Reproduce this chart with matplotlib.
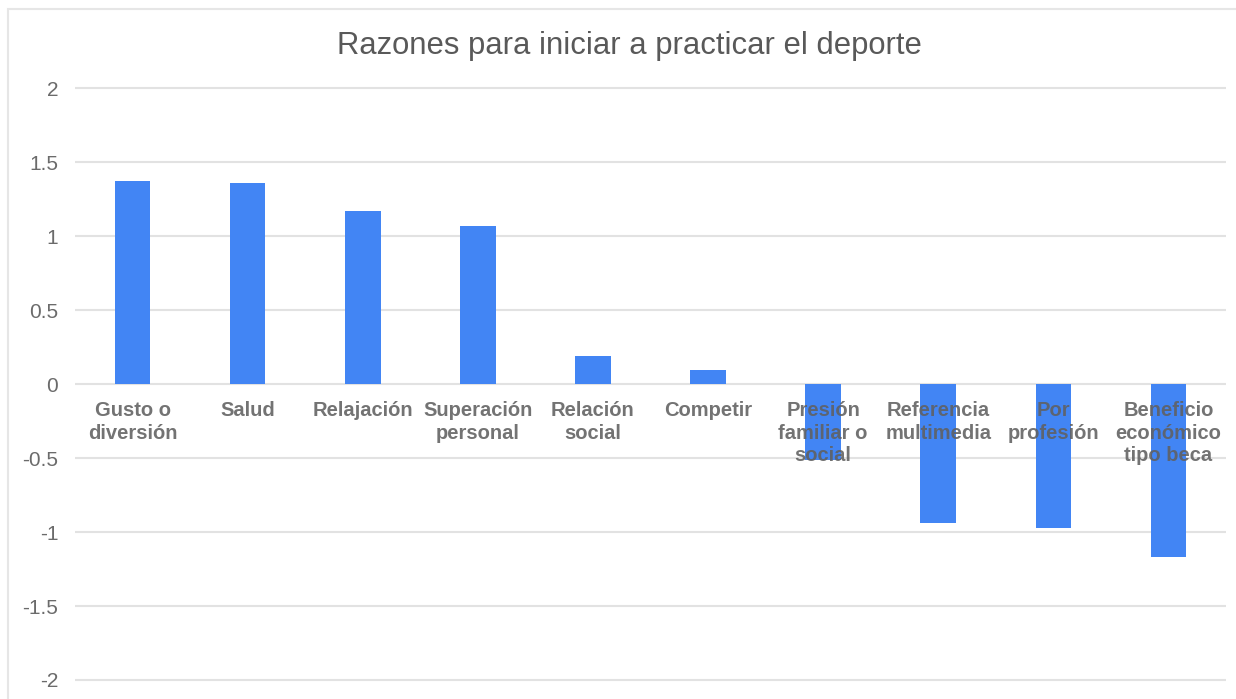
import numpy as np
import matplotlib.pyplot as plt
from matplotlib.patches import Rectangle

# Data
categories = ['Gusto o\ndiversión', 'Salud', 'Relajación', 'Superación\npersonal',
              'Relación\nsocial', 'Competir', 'Presión\nfamiliar o\nsocial',
              'Referencia\nmultimedia', 'Por\nprofesión', 'Beneficio\neconómico\ntipo beca']
values = [1.37, 1.36, 1.17, 1.07, 0.19, 0.095, -0.51, -0.94, -0.97, -1.17]
yticks = [-2, -1.5, -1, -0.5, 0, 0.5, 1, 1.5, 2]
ytick_labels = ['-2', '-1.5', '-1', '-0.5', '0', '0.5', '1', '1.5', '2']

bar_blue = '#4285F4'
grid_gray = '#e2e2e2'
text_gray = '#595959'

plt.rcParams['font.family'] = ['Liberation Sans', 'DejaVu Sans']

fig = plt.figure(figsize=(12.36, 6.99), dpi=100)
fig.patches.append(Rectangle((8 / 1236, -0.1), 1.2, 1 - 9 / 699 + 0.1, transform=fig.transFigure,
                             fill=False, edgecolor='#e6e6e6', linewidth=1.5))

ax = fig.add_axes([75 / 1236, 0.0166, (1226 - 75) / 1236, 0.868])
x = np.arange(len(categories))
ax.bar(x, values, width=0.31, color=bar_blue, zorder=2)

ax.set_xlim(-0.5, len(categories) - 0.5)
ax.set_ylim(-2.05, 2.05)
ax.set_yticks(yticks)
ax.set_yticklabels(ytick_labels, fontsize=15, color='#6b6b6b')
ax.tick_params(axis='y', length=0, pad=12)
ax.set_xticks([])
ax.yaxis.grid(True, color=grid_gray, linewidth=1.5, zorder=0)
ax.set_axisbelow(True)
for s in ax.spines.values():
    s.set_visible(False)

for i, lab in enumerate(categories):
    ax.annotate(lab, (i, 0), xytext=(0, -12.5), textcoords='offset points',
                ha='center', va='top', fontsize=14.5, fontweight='bold',
                color='#606060', alpha=0.88, linespacing=1.22, zorder=3)

fig.text(629 / 1236, 1 - 46 / 699, 'Razones para iniciar a practicar el deporte',
         ha='center', va='center', fontsize=22.3, color=text_gray)

fig.savefig('out.png', dpi=100)
